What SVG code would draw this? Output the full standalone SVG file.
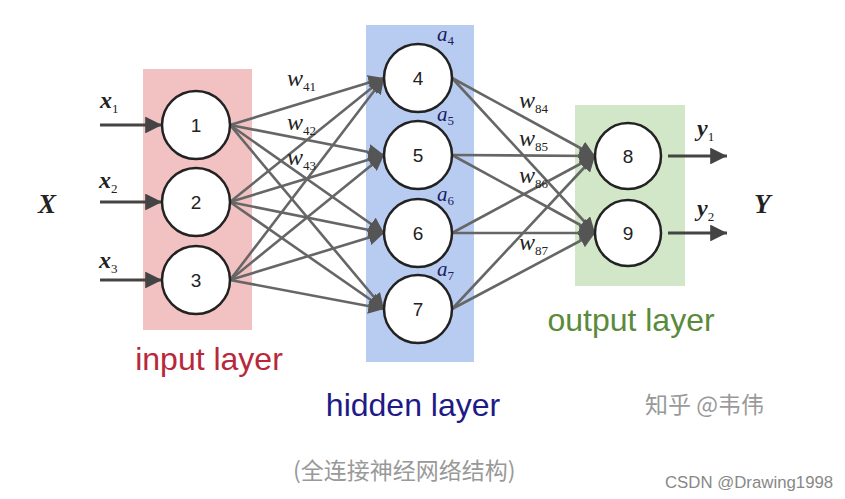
<svg xmlns="http://www.w3.org/2000/svg" width="845" height="499" viewBox="0 0 845 499">
<defs>
<marker id="ah" viewBox="0 0 10 10" refX="10" refY="5" markerWidth="6" markerHeight="6" markerUnits="strokeWidth" orient="auto">
<path d="M0,0 L10,5 L0,10 z" fill="#555"/>
</marker>
<marker id="ah2" viewBox="0 0 10 10" refX="10" refY="5" markerWidth="6" markerHeight="6" markerUnits="strokeWidth" orient="auto">
<path d="M0,0 L10,5 L0,10 z" fill="#444"/>
</marker>
</defs>
<style>
.node circle{fill:#fff;stroke:#222;stroke-width:2.5}
.node text{font-family:"Liberation Sans",Arial,sans-serif;font-size:19px;fill:#222;text-anchor:middle;dominant-baseline:central}
.conn line{stroke:#666;stroke-width:2.6;marker-end:url(#ah)}
.io line{stroke:#444;stroke-width:2.8;marker-end:url(#ah2)}
.m{font-family:"Liberation Serif","Times New Roman",serif;font-style:italic;fill:#222}
.w{font-size:24px}
.v{font-size:24px;font-weight:bold}
.s{font-size:13px;font-style:normal;font-weight:normal}
.a{fill:#1c2060;font-size:21px}
.lab{font-family:"Liberation Sans",Arial,sans-serif;font-size:32px;text-anchor:middle}
.gray{font-family:"Noto Sans CJK SC","Liberation Sans",sans-serif;fill:#999}
</style>
<rect width="845" height="499" fill="#fff"/>
<rect x="143" y="69" width="109" height="261" fill="#f2c2c2"/>
<rect x="366" y="25" width="108" height="337" fill="#b8ccf2"/>
<rect x="575" y="105" width="110" height="181" fill="#d2e6c8"/>
<g id="connectors">
<g class="conn">
<line x1="230" y1="125" x2="384" y2="78"/>
<line x1="230" y1="125" x2="384" y2="155"/>
<line x1="230" y1="125" x2="384" y2="233"/>
<line x1="230" y1="125" x2="384" y2="309"/>
<line x1="230" y1="202" x2="384" y2="78"/>
<line x1="230" y1="202" x2="384" y2="155"/>
<line x1="230" y1="202" x2="384" y2="233"/>
<line x1="230" y1="202" x2="384" y2="309"/>
<line x1="230" y1="280" x2="384" y2="78"/>
<line x1="230" y1="280" x2="384" y2="155"/>
<line x1="230" y1="280" x2="384" y2="233"/>
<line x1="230" y1="280" x2="384" y2="309"/>
<line x1="452" y1="78" x2="595" y2="156"/>
<line x1="452" y1="78" x2="595" y2="233"/>
<line x1="452" y1="155" x2="595" y2="156"/>
<line x1="452" y1="155" x2="595" y2="233"/>
<line x1="452" y1="233" x2="595" y2="156"/>
<line x1="452" y1="233" x2="595" y2="233"/>
<line x1="452" y1="309" x2="595" y2="156"/>
<line x1="452" y1="309" x2="595" y2="233"/>
</g>
<g class="io">
<line x1="100" y1="125" x2="162" y2="125"/>
<line x1="100" y1="202" x2="162" y2="202"/>
<line x1="100" y1="280" x2="162" y2="280"/>
<line x1="668" y1="156" x2="727" y2="156"/>
<line x1="668" y1="233" x2="727" y2="233"/>
</g>
</g>
<g id="n1" class="node"><circle cx="196" cy="125" r="34"/><text x="196" y="125">1</text></g>
<g id="n2" class="node"><circle cx="196" cy="202" r="34"/><text x="196" y="202">2</text></g>
<g id="n3" class="node"><circle cx="196" cy="280" r="34"/><text x="196" y="280">3</text></g>
<g id="n4" class="node"><circle cx="418" cy="78" r="34"/><text x="418" y="78">4</text></g>
<g id="n5" class="node"><circle cx="418" cy="155" r="34"/><text x="418" y="155">5</text></g>
<g id="n6" class="node"><circle cx="418" cy="233" r="34"/><text x="418" y="233">6</text></g>
<g id="n7" class="node"><circle cx="418" cy="309" r="34"/><text x="418" y="309">7</text></g>
<g id="n8" class="node"><circle cx="628" cy="156" r="33"/><text x="628" y="156">8</text></g>
<g id="n9" class="node"><circle cx="628" cy="233" r="33"/><text x="628" y="233">9</text></g>
<g id="labels">
<text class="m" x="38" y="213" font-size="27" font-weight="bold">X</text>
<text class="m" x="754" y="213" font-size="27" font-weight="bold">Y</text>
<text class="m v" x="100" y="108">x<tspan class="s" dy="5">1</tspan></text>
<text class="m v" x="99" y="188">x<tspan class="s" dy="5">2</tspan></text>
<text class="m v" x="99" y="268">x<tspan class="s" dy="5">3</tspan></text>
<text class="m v" x="697" y="136">y<tspan class="s" dy="5">1</tspan></text>
<text class="m v" x="697" y="216">y<tspan class="s" dy="5">2</tspan></text>
<text class="m w" x="287" y="86">w<tspan class="s" dy="5">41</tspan></text>
<text class="m w" x="287" y="130">w<tspan class="s" dy="5">42</tspan></text>
<text class="m w" x="287" y="165">w<tspan class="s" dy="5">43</tspan></text>
<text class="m w" x="519" y="108">w<tspan class="s" dy="5">84</tspan></text>
<text class="m w" x="519" y="146">w<tspan class="s" dy="5">85</tspan></text>
<text class="m w" x="519" y="183">w<tspan class="s" dy="5">86</tspan></text>
<text class="m w" x="519" y="250">w<tspan class="s" dy="5">87</tspan></text>
<text class="m a" x="437" y="41">a<tspan class="s" dy="4">4</tspan></text>
<text class="m a" x="437" y="121">a<tspan class="s" dy="4">5</tspan></text>
<text class="m a" x="437" y="201">a<tspan class="s" dy="4">6</tspan></text>
<text class="m a" x="437" y="276">a<tspan class="s" dy="4">7</tspan></text>
<text class="lab" x="209" y="370" fill="#b8283a">input layer</text>
<text class="lab" x="413" y="416" fill="#1e1a86">hidden layer</text>
<text class="lab" x="631" y="331" fill="#5a8a3c">output layer</text>
<text class="gray" x="645" y="413" font-size="23" fill="#b0b0b0">知乎 @韦伟</text>
<text class="gray" x="293" y="479" font-size="23">(全连接神经网络结构)</text>
<text x="665" y="488" font-family="'Liberation Sans',Arial,sans-serif" font-size="16.8" fill="#888">CSDN @Drawing1998</text>
</g>
</svg>
